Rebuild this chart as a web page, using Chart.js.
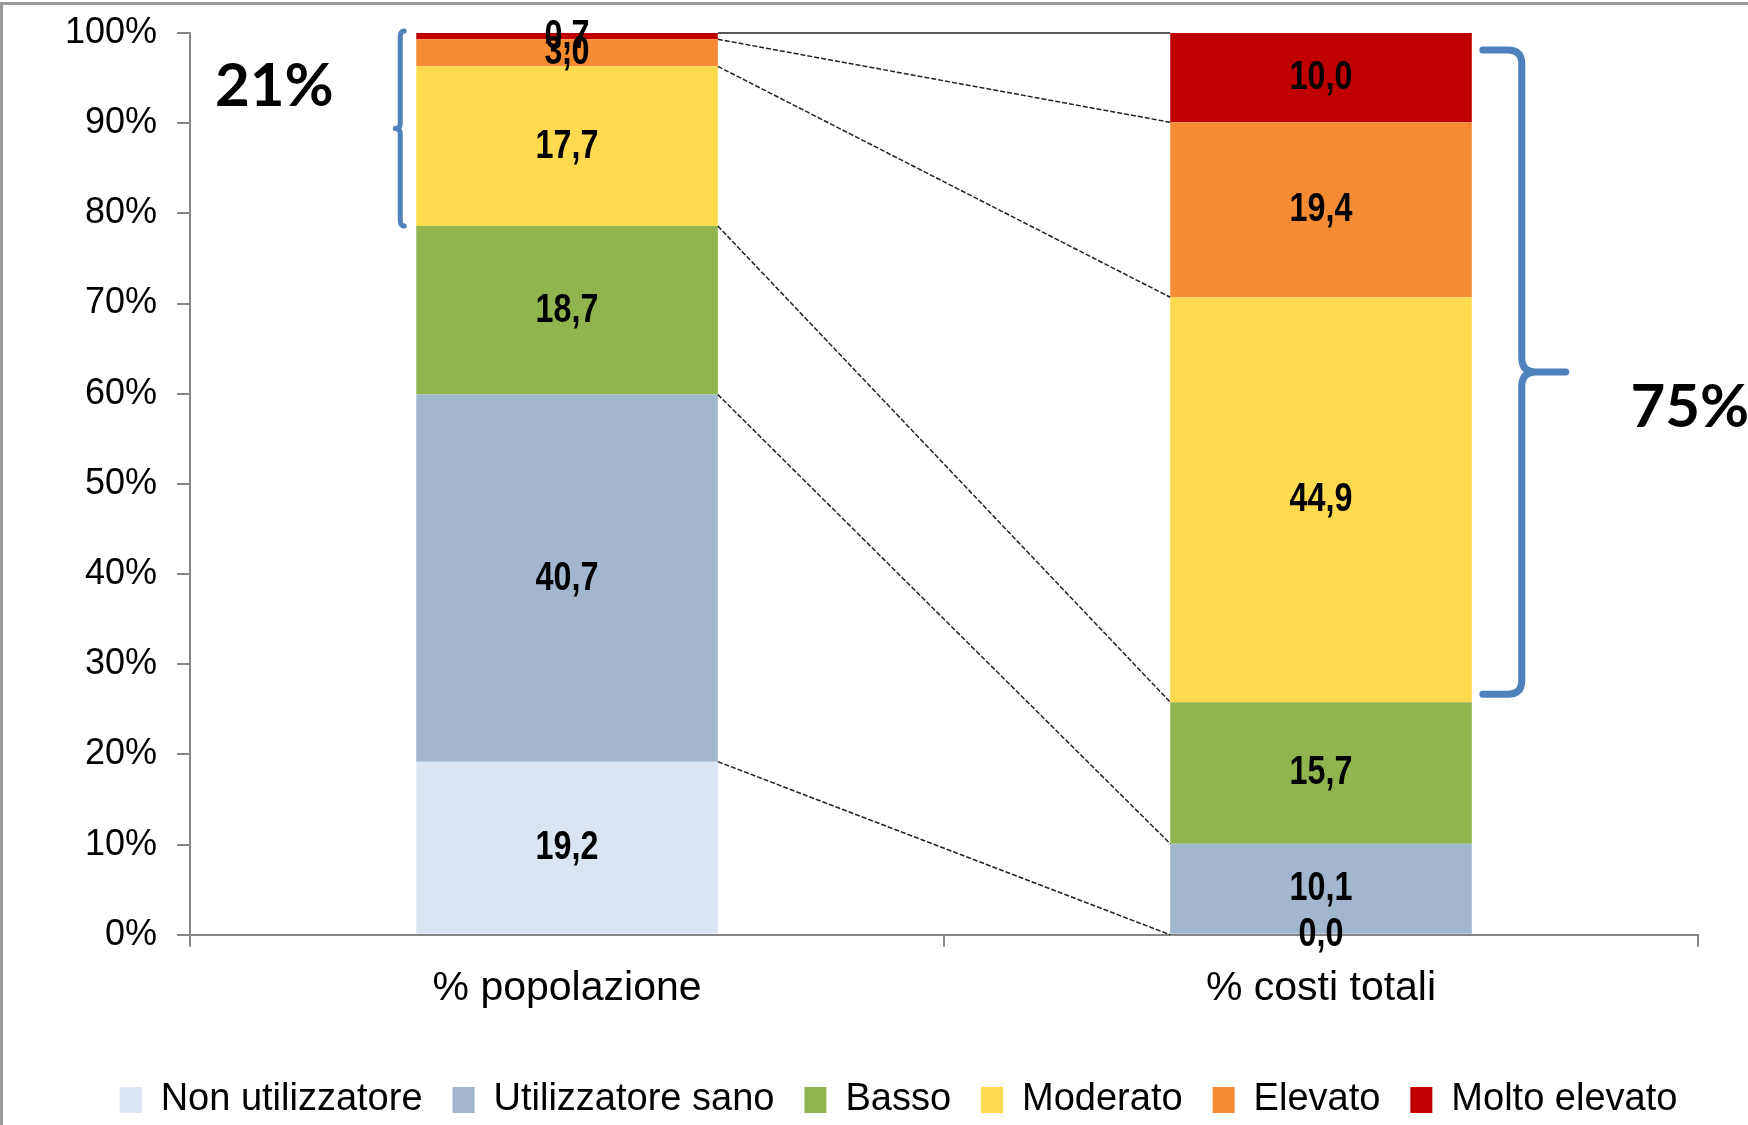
<!DOCTYPE html>
<html>
<head>
<meta charset="utf-8">
<script src="https://cdn.jsdelivr.net/npm/chart.js@4"></script>
<style>
  html, body { margin: 0; padding: 0; background: #fff; }
  #wrap { position: relative; width: 1748px; height: 1125px; }
  #frameTop { position: absolute; left: 0; top: 2px; width: 1748px; height: 3px; background: #9a9a9a; }
  #frameLeft { position: absolute; left: 0; top: 2px; width: 3px; height: 1123px; background: #9a9a9a; }
</style>
</head>
<body>
<div id="wrap">
  <canvas id="chart" width="1748" height="1125"></canvas>
  <div id="frameTop"></div>
  <div id="frameLeft"></div>
</div>
<script>
const categories = ["% popolazione", "% costi totali"];
const groups = ["Non utilizzatore", "Utilizzatore sano", "Basso", "Moderato", "Elevato", "Molto elevato"];
const nonUtilizzatore = [19.2, 0.0];
const utilizzatoreSano = [40.7, 10.1];
const basso = [18.7, 15.7];
const moderato = [17.7, 44.9];
const elevato = [3.0, 19.4];
const moltoElevato = [0.7, 10.0];
const groupColors = ["#dbe5f1", "#a2b7ce", "#91b44f", "#ffda4f", "#f58b33", "#c00000"];
const yTicks = [0, 10, 20, 30, 40, 50, 60, 70, 80, 90, 100];
const bracketLabels = ["21%", "75%"];

const series = [nonUtilizzatore, utilizzatoreSano, basso, moderato, elevato, moltoElevato];
const FONT = "'Liberation Sans', Arial, sans-serif";

Chart.defaults.font.family = FONT;
Chart.defaults.color = "#000";

// cumulative sum of the first k groups for bar i
function cum(i, k) {
  let s = 0;
  for (let g = 0; g < k; g++) s += series[g][i];
  return s;
}

function fmt(v) {
  return v.toFixed(1).replace(".", ",");
}

const connectors = {
  id: "connectors",
  afterDatasetsDraw(chart) {
    const ctx = chart.ctx;
    const y = chart.scales.y;
    const meta = chart.getDatasetMeta(0);
    const lb = meta.data[0], rb = meta.data[1];
    const x1 = lb.x + lb.width / 2;
    const x2 = rb.x - rb.width / 2;
    ctx.save();
    ctx.strokeStyle = "#222";
    for (let k = 1; k <= series.length; k++) {
      const last = k === series.length;
      ctx.setLineDash(last ? [] : [5, 2]);
      ctx.lineWidth = last ? 1.6 : 1.5;
      ctx.beginPath();
      ctx.moveTo(x1, y.getPixelForValue(Math.min(cum(0, k), 100)));
      ctx.lineTo(x2, y.getPixelForValue(Math.min(cum(1, k), 100)));
      ctx.stroke();
    }
    ctx.restore();
  }
};

// the original labels are a tall, narrow bold face: stretch them a little
const valueLabels = {
  id: "valueLabels",
  afterDatasetsDraw(chart) {
    const ctx = chart.ctx;
    ctx.save();
    ctx.font = "bold 34px " + FONT;
    ctx.fillStyle = "#000";
    ctx.textAlign = "center";
    ctx.textBaseline = "middle";
    chart.data.datasets.forEach((ds, i) => {
      chart.getDatasetMeta(i).data.forEach((bar, j) => {
        ctx.save();
        ctx.translate(bar.x, (bar.y + bar.base) / 2);
        ctx.scale(0.95, 1.22);
        ctx.fillText(fmt(ds.data[j]), 0, 0);
        ctx.restore();
      });
    });
    ctx.restore();
  }
};

const brackets = {
  id: "brackets",
  afterDraw(chart) {
    const ctx = chart.ctx;
    const y = chart.scales.y;
    const meta = chart.getDatasetMeta(0);
    const lb = meta.data[0], rb = meta.data[1];
    ctx.save();
    ctx.strokeStyle = "#4f81bd";
    ctx.lineCap = "round";
    ctx.lineJoin = "round";

    // left bracket: population share of the top three groups
    const xL = lb.x - lb.width / 2 - 16;
    const lTop = y.getPixelForValue(100) - 2;
    const lBot = y.getPixelForValue(cum(0, 3));
    const lMid = (lTop + lBot) / 2;
    ctx.lineWidth = 5;
    ctx.beginPath();
    ctx.moveTo(xL + 4, lTop);
    ctx.quadraticCurveTo(xL, lTop, xL, lTop + 6);
    ctx.lineTo(xL, lMid - 5);
    ctx.quadraticCurveTo(xL, lMid, xL - 5, lMid);
    ctx.quadraticCurveTo(xL, lMid, xL, lMid + 5);
    ctx.lineTo(xL, lBot - 6);
    ctx.quadraticCurveTo(xL, lBot, xL + 4, lBot);
    ctx.stroke();

    // right bracket: cost share of the top three groups
    const xR = rb.x + rb.width / 2 + 50;
    const rTop = y.getPixelForValue(100) + 17;
    const rBot = y.getPixelForValue(cum(1, 3)) - 8;
    const rMid = (rTop + rBot) / 2;
    ctx.lineWidth = 7;
    ctx.beginPath();
    ctx.moveTo(xR - 39, rTop);
    ctx.lineTo(xR - 14, rTop);
    ctx.quadraticCurveTo(xR, rTop, xR, rTop + 14);
    ctx.lineTo(xR, rMid - 14);
    ctx.quadraticCurveTo(xR, rMid, xR + 14, rMid);
    ctx.lineTo(xR + 44, rMid);
    ctx.moveTo(xR + 14, rMid);
    ctx.quadraticCurveTo(xR, rMid, xR, rMid + 14);
    ctx.lineTo(xR, rBot - 14);
    ctx.quadraticCurveTo(xR, rBot, xR - 14, rBot);
    ctx.lineTo(xR - 39, rBot);
    ctx.stroke();

    ctx.fillStyle = "#000";
    ctx.font = "bold 60px Lato, " + FONT;
    ctx.textAlign = "center";
    ctx.textBaseline = "middle";
    ctx.fillText(bracketLabels[0], xL - 126, y.getPixelForValue(94));
    ctx.fillText(bracketLabels[1], xR + 168, y.getPixelForValue(58.5));
    ctx.restore();
  }
};

// legend sits a bit right of the canvas centre in the original
const legendShift = {
  id: "legendShift",
  afterLayout(chart) {
    chart.legend.left += 27;
    chart.legend.right += 27;
  }
};

new Chart(document.getElementById("chart"), {
  type: "bar",
  data: {
    labels: categories,
    datasets: groups.map((g, i) => ({
      label: g,
      data: series[i],
      backgroundColor: groupColors[i],
      borderWidth: 0,
      barPercentage: 0.4,
      categoryPercentage: 1.0
    }))
  },
  options: {
    responsive: false,
    animation: false,
    layout: { padding: { left: 45, right: 50, top: 33, bottom: -4 } },
    scales: {
      x: {
        stacked: true,
        afterFit: axis => { axis.height += 21; },
        grid: { display: true, drawOnChartArea: false, tickLength: 12, color: "#868686", lineWidth: 2 },
        border: { color: "#868686", width: 2 },
        ticks: { font: { size: 41 }, padding: 17, color: "#000" }
      },
      y: {
        stacked: true,
        min: 0,
        max: 100,
        afterBuildTicks: axis => { axis.ticks = yTicks.map(v => ({ value: v })); },
        // tick padding would otherwise push the plot top down
        afterFit: axis => { axis.paddingTop = 20; },
        grid: { display: true, drawOnChartArea: false, tickLength: 13, color: "#868686", lineWidth: 2 },
        border: { color: "#868686", width: 2 },
        ticks: { font: { size: 36 }, padding: 20, color: "#000", callback: v => v + "%" }
      }
    },
    plugins: {
      legend: {
        position: "bottom",
        labels: {
          font: { size: 38 },
          color: "#000",
          boxWidth: 22,
          boxHeight: 26,
          padding: 30
        }
      },
      tooltip: { enabled: false }
    }
  },
  plugins: [connectors, valueLabels, brackets, legendShift]
});
</script>
</body>
</html>
